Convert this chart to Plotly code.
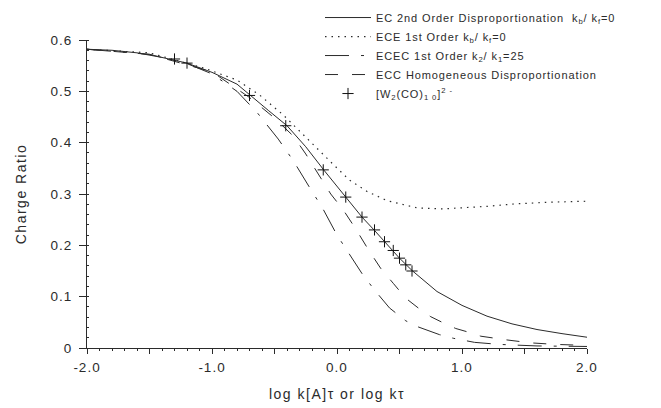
import plotly.graph_objects as go

# EC 2nd order disproportionation (solid)
ec2_x = [-2.0, -1.8, -1.6, -1.4, -1.2, -1.0, -0.8, -0.7, -0.55, -0.4, -0.25, -0.1, 0.0, 0.1,
         0.2, 0.3, 0.4, 0.5, 0.6, 0.8, 1.0, 1.2, 1.4, 1.6, 1.8, 2.0]
ec2_y = [0.582, 0.580, 0.575, 0.566, 0.555, 0.537, 0.514, 0.493, 0.463, 0.433, 0.392, 0.345,
         0.315, 0.286, 0.255, 0.229, 0.202, 0.175, 0.151, 0.110, 0.083, 0.062, 0.047, 0.036,
         0.028, 0.021]

# ECE 1st order (dotted)
ece_x = [-2.0, -1.5, -1.06, -0.8, -0.62, -0.43, -0.28, -0.14, -0.04, 0.1, 0.24, 0.4, 0.64,
         0.85, 1.04, 1.2, 1.44, 1.7, 2.0]
ece_y = [0.582, 0.575, 0.545, 0.522, 0.493, 0.454, 0.418, 0.383, 0.360, 0.327, 0.305, 0.287,
         0.273, 0.271, 0.273, 0.276, 0.281, 0.284, 0.286]

# ECEC 1st order k2/k1 = 25 (dash-dot)
ecec_x = [-2.0, -1.5, -1.2, -1.0, -0.8, -0.64, -0.47, -0.35, -0.22, -0.11, 0.0, 0.1, 0.2,
          0.3, 0.42, 0.55, 0.65, 0.82, 0.93, 1.1, 1.3, 1.6, 2.0]
ecec_y = [0.582, 0.572, 0.554, 0.534, 0.500, 0.459, 0.407, 0.365, 0.313, 0.270, 0.220, 0.182,
          0.145, 0.113, 0.078, 0.053, 0.041, 0.026, 0.019, 0.011, 0.007, 0.004, 0.003]

# ECC homogeneous disproportionation (dashed)
ecc_x = [-2.0, -1.5, -1.0, -0.7, -0.5, -0.35, -0.25, -0.15, -0.05, 0.05, 0.15, 0.25, 0.35,
         0.45, 0.55, 0.65, 0.75, 0.85, 0.95, 1.05, 1.15, 1.35, 1.55, 1.75, 2.0]
ecc_y = [0.582, 0.572, 0.538, 0.488, 0.448, 0.413, 0.378, 0.340, 0.300, 0.269, 0.232, 0.192,
         0.155, 0.126, 0.097, 0.078, 0.061, 0.049, 0.038, 0.031, 0.023, 0.016, 0.010, 0.007,
         0.005]

# experimental [W2(CO)10]2- points
w_x = [-1.3, -1.2, -0.7, -0.41, -0.11, 0.07, 0.2, 0.3, 0.38, 0.45, 0.5, 0.55, 0.6]
w_y = [0.563, 0.555, 0.492, 0.433, 0.347, 0.294, 0.255, 0.230, 0.207, 0.190, 0.175, 0.162, 0.150]

x_ticks = [-2.0, -1.5, -1.0, -0.5, 0.0, 0.5, 1.0, 1.5, 2.0]
x_text = ["-2.0", "", "-1.0", "", "0.0", "", "1.0", "", "2.0"]
y_ticks = [0, 0.1, 0.2, 0.3, 0.4, 0.5, 0.6]
y_text = ["0", "0.1", "0.2", "0.3", "0.4", "0.5", "0.6"]

TINTA = "#2b2b2b"
FUENTE = "Liberation Sans, Arial, sans-serif"


def espaciado(txt, px=1.0):
    # scanned figure: letters sit a bit wider than a normal Helvetica
    return f'<span style="letter-spacing:{px}px">{txt}</span>' if txt else txt


fig = go.Figure()
fig.add_trace(go.Scatter(x=ec2_x, y=ec2_y, mode="lines", line=dict(color=TINTA, width=1),
                         name=espaciado("EC 2nd Order Disproportionation  k<sub>b</sub>/ k<sub>f</sub>=0", 0.9)))
fig.add_trace(go.Scatter(x=ece_x, y=ece_y, mode="lines",
                         line=dict(color=TINTA, width=1.2, dash="1.5px,5px"),
                         name=espaciado("ECE 1st Order k<sub>b</sub>/ k<sub>f</sub>=0", 0.9)))
fig.add_trace(go.Scatter(x=ecec_x, y=ecec_y, mode="lines",
                         line=dict(color=TINTA, width=1, dash="24px,12px,3px,12px"),
                         name=espaciado("ECEC 1st Order k<sub>2</sub>/ k<sub>1</sub>=25", 0.9)))
fig.add_trace(go.Scatter(x=ecc_x, y=ecc_y, mode="lines",
                         line=dict(color=TINTA, width=1, dash="13px,14px"),
                         name=espaciado("ECC Homogeneous Disproportionation", 0.9)))
fig.add_trace(go.Scatter(x=w_x, y=w_y, mode="markers",
                         marker=dict(symbol="cross-thin", size=8,
                                     line=dict(color="#111111", width=1)),
                         name=espaciado("[W<sub>2</sub>(CO)<sub>1 0</sub>]<sup>2 -</sup>", 0.9)))

# la página lleva 8px de margen del body: figura algo menor para que quepa igual
fig.update_layout(
    width=653, height=400,
    margin=dict(l=79, r=74, t=32, b=60, autoexpand=False),
    paper_bgcolor="white", plot_bgcolor="white",
    font=dict(family=FUENTE, size=12, color=TINTA),
    showlegend=True,
    legend=dict(x=0.466, y=1.12, xanchor="left", yanchor="top",
                bgcolor="rgba(0,0,0,0)", font=dict(size=11), tracegroupgap=0,
                itemwidth=46),
    xaxis=dict(range=[-2, 2], showline=True, linecolor=TINTA, linewidth=1,
               showgrid=False, zeroline=False, ticks="outside", ticklen=5,
               tickcolor=TINTA, tickvals=x_ticks, ticktext=[espaciado(t) for t in x_text],
               tickfont=dict(size=13.5), ticklabelstandoff=2,
               minor=dict(dtick=0.1, ticks="outside", ticklen=2, tickcolor=TINTA),
               title=dict(text=espaciado("log k[A]τ or log kτ", 1.5), standoff=14,
                          font=dict(size=14))),
    yaxis=dict(range=[0, 0.6], showline=True, linecolor=TINTA, linewidth=1,
               showgrid=False, zeroline=False, ticks="outside", ticklen=7,
               tickcolor=TINTA, tickvals=y_ticks, ticktext=[espaciado(t) for t in y_text],
               tickfont=dict(size=13.5), ticklabelstandoff=4,
               minor=dict(dtick=0.02, ticks="inside", ticklen=2, tickcolor=TINTA),
               title=dict(text=espaciado("Charge Ratio", 1.5), standoff=20,
                          font=dict(size=14))),
)

fig.write_html("out.html")
